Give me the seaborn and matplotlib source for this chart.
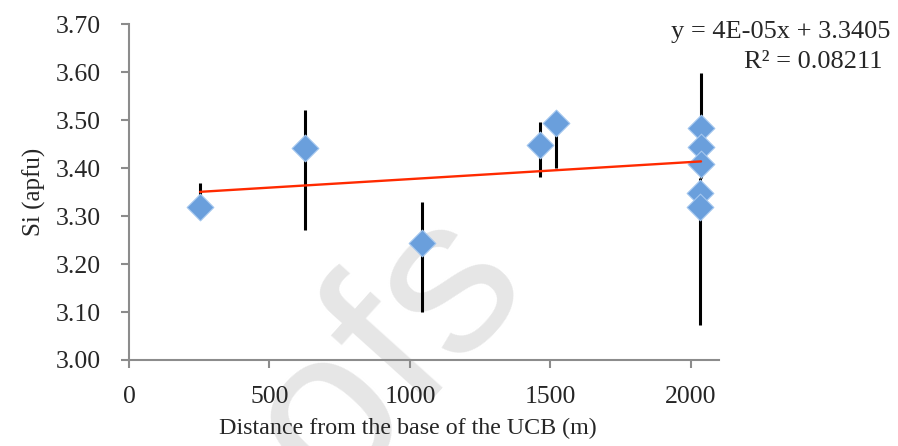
import matplotlib
matplotlib.use("Agg")
import matplotlib.pyplot as plt
import seaborn as sns
import numpy as np
import pandas as pd

# distance from base of UCB (m), Si (apfu) and error bar extents
distance = [253, 627, 1044, 1463, 1520, 2036, 2036, 2036, 2032, 2032]
si = [3.319, 3.442, 3.243, 3.448, 3.494, 3.484, 3.445, 3.409, 3.349, 3.320]
err_low = [0.025, 0.171, 0.142, 0.066, 0.094, 0.03, 0.03, 0.03, 0.03, 0.247]
err_high = [0.051, 0.079, 0.087, 0.049, 0.015, 0.114, 0.03, 0.03, 0.03, 0.03]

y_ticks = [3.00, 3.10, 3.20, 3.30, 3.40, 3.50, 3.60, 3.70]
x_ticks = [0, 500, 1000, 1500, 2000]
eq_line1 = "y = 4E-05x + 3.3405"
eq_line2 = "R² = 0.08211"

df = pd.DataFrame({"dist": distance, "si": si})

sns.set_style("ticks")
plt.rcParams["font.family"] = ["Liberation Serif", "DejaVu Serif"]

fig = plt.figure(figsize=(8.98, 4.46), dpi=100)
W, H = 898, 446
ax = fig.add_axes([129 / W, 1 - 360 / H, (719 - 129) / W, (360 - 24.3) / H])
ax.set_facecolor("none")

# watermark behind the data
ax.text(530 / W, 1 - 280 / H, "oofs", family="Liberation Sans", fontsize=160,
        color="#e6e6e6", rotation=48, rotation_mode="anchor",
        ha="right", va="baseline", transform=fig.transFigure, clip_on=False,
        zorder=0.5)

ax.errorbar(distance, si, yerr=[err_low, err_high], fmt="none", ecolor="black",
            elinewidth=2.2, capsize=0, zorder=2)
sns.scatterplot(data=df, x="dist", y="si", marker="D", s=185, color="#6a9fdc",
                edgecolor="#a3c6ee", linewidth=0.8, zorder=3, ax=ax, legend=False)
sns.regplot(data=df, x="dist", y="si", scatter=False, ci=None, truncate=True,
            line_kws={"color": "#ff2a00", "lw": 1.7, "zorder": 4}, ax=ax)

ax.set_xlim(0, 2100)
ax.set_ylim(3.0, 3.7)
ax.set_xticks(x_ticks)
ax.set_yticks(y_ticks)
ax.set_yticklabels([f"{v:.2f}" for v in y_ticks])
ax.set_xlabel("Distance from the base of the UCB (m)", fontsize=17.3)
ax.set_ylabel("Si (apfu)", fontsize=18)
ax.xaxis.set_label_coords((408 - 129) / (719 - 129), -0.172)
ax.yaxis.set_label_coords(-(129 - 46) / (719 - 129), 0.5)
ax.tick_params(axis="both", labelsize=18.5, color="#8c8c8c", width=1.5, length=6)
ax.tick_params(axis="x", pad=13)
ax.tick_params(axis="y", pad=14)
for side in ["top", "right"]:
    ax.spines[side].set_visible(False)
for side in ["left", "bottom"]:
    ax.spines[side].set_color("#8c8c8c")
    ax.spines[side].set_linewidth(1.5)

fig.text(890 / W, 1 - 38 / H, eq_line1, fontsize=19, ha="right", va="baseline")
fig.text(883 / W, 1 - 68 / H, eq_line2, fontsize=19, ha="right", va="baseline")

fig.savefig("out.png", dpi=100)
